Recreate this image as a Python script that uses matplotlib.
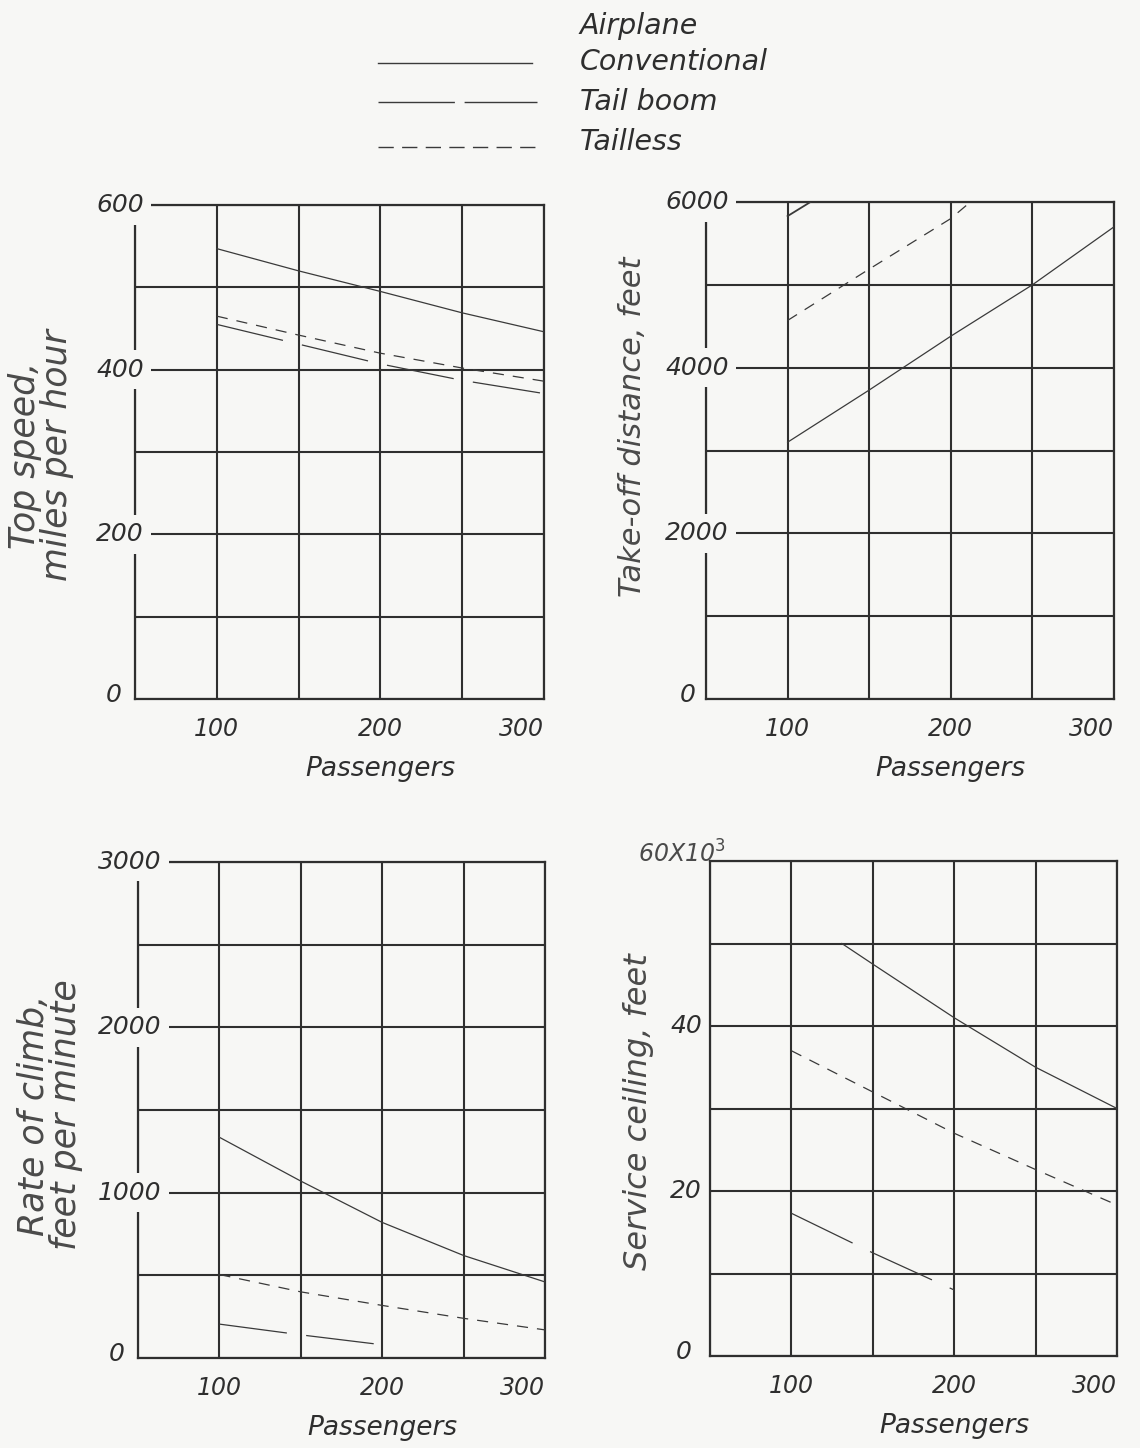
import matplotlib.pyplot as plt
from matplotlib.lines import Line2D
from matplotlib.transforms import offset_copy

# Values
passengers = [100, 150, 200, 250, 300]
passenger_grid = [50, 100, 150, 200, 250, 300]
passenger_labels = ['', '100', '', '200', '', '300']

# Top speed, miles per hour
speed_conventional = [547, 520, 495, 469, 446]
speed_tail_boom = [455, 431, 407, 387, 371]
speed_tailless = [465, 442, 420, 402, 386]

# Take-off distance, feet
takeoff_conventional = [3100, 3730, 4380, 5000, 5700]
takeoff_boom_passengers = [100, 114]
takeoff_tail_boom = [5830, 6000]
takeoff_tailless_passengers = [100, 150, 200, 212]
takeoff_tailless = [4570, 5190, 5800, 6000]

# Rate of climb, feet per minute
climb_conventional = [1335, 1070, 820, 620, 460]
climb_boom_passengers = [100, 150, 200]
climb_tail_boom = [205, 140, 80]
climb_tailless = [505, 400, 318, 240, 170]

# Service ceiling, thousands of feet
ceiling_conv_passengers = [131, 150, 200, 250, 300]
ceiling_conventional = [50, 47.5, 41, 35, 30]
ceiling_boom_passengers = [100, 150, 200]
ceiling_tail_boom = [17.3, 12.5, 8]
ceiling_tailless = [37, 32, 27, 22.6, 18.3]

BG = '#f7f7f5'
INK = '#2e2e2e'
W, H = 1140, 1448

plt.rcParams['font.family'] = ['DejaVu Sans']
plt.rcParams['lines.scale_dashes'] = False

conv_style = dict(color='#3a3a3a', lw=0.9, ls='-')
boom_style = dict(color='#3a3a3a', lw=0.9, ls=(0, (49, 14)))
tailless_style = dict(color='#3a3a3a', lw=0.9, ls=(0, (8, 6.5)))

fig = plt.figure(figsize=(W / 100, H / 100), dpi=100, facecolor=BG)


def rect(x0, y0, x1, y1):
    # pixel box -> figure fraction
    return [x0 / W, 1 - y1 / H, (x1 - x0) / W, (y1 - y0) / H]


def style_axes(ax, ymax, ystep, tick_vals, tick_txt, dx, dx_zero, boxed, height_px):
    ax.set_facecolor(BG)
    ax.set_xlim(50, 300)
    ax.set_ylim(0, ymax)
    ax.set_xticks(passenger_grid)
    ax.set_xticklabels(passenger_labels)
    ax.set_yticks([v * ystep for v in range(int(ymax / ystep) + 1)])
    ax.tick_params(length=0, labelleft=False, pad=13, labelsize=17, labelcolor=INK)
    for lab in ax.get_xticklabels():
        lab.set_fontstyle('italic')
    # last label sits a little left of the right edge
    ax.get_xticklabels()[-1].set_horizontalalignment('right')
    ax.get_xticklabels()[-1].set_x(306)
    ax.grid(True, color='#2f2f2f', lw=1.5)
    for sp in ax.spines.values():
        sp.set_color('#2f2f2f')
        sp.set_linewidth(1.6)
    for v, t in zip(tick_vals, tick_txt):
        off = dx_zero if v == 0 else dx
        dy = 4 if v == 0 else 0
        tr = offset_copy(ax.get_yaxis_transform(), fig=fig, x=off, y=dy, units='dots')
        box = dict(boxstyle='square,pad=0.3', fc=BG, ec='none') if boxed and v != 0 else None
        ax.text(0, v, t, transform=tr, ha='center', va='center', fontsize=18,
                style='italic', color=INK, bbox=box, zorder=6, clip_on=False)
    ax.set_xlabel('Passengers', fontsize=19, style='italic', color=INK)
    ax.xaxis.set_label_coords(0.6, -57 / height_px)


# Top speed
ax1 = fig.add_axes(rect(135, 205, 544, 699))
ax1.plot(passengers, speed_conventional, **conv_style, zorder=3)
ax1.plot(passengers, speed_tail_boom, **boom_style, zorder=3)
ax1.plot(passengers, speed_tailless, **tailless_style, zorder=3)
style_axes(ax1, 600, 100, [0, 200, 400, 600], ['0', '200', '400', '600'], -15, -21, True, 494)

# Take-off distance
ax2 = fig.add_axes(rect(706, 202, 1114, 699))
ax2.plot(passengers, takeoff_conventional, **conv_style, zorder=3)
ax2.plot(takeoff_boom_passengers, takeoff_tail_boom, color='#3a3a3a', lw=1.3, zorder=3)
ax2.plot(takeoff_tailless_passengers, takeoff_tailless, **tailless_style, zorder=3)
style_axes(ax2, 6000, 1000, [0, 2000, 4000, 6000], ['0', '2000', '4000', '6000'], -9, -18, True, 497)

# Rate of climb
ax3 = fig.add_axes(rect(138, 862, 545, 1358))
ax3.plot(passengers, climb_conventional, **conv_style, zorder=3)
ax3.plot(climb_boom_passengers, climb_tail_boom, **boom_style, zorder=3)
ax3.plot(passengers, climb_tailless, **tailless_style, zorder=3)
style_axes(ax3, 3000, 500, [0, 1000, 2000, 3000], ['0', '1000', '2000', '3000'], -8, -21, True, 496)

# Service ceiling
ax4 = fig.add_axes(rect(710, 861, 1117, 1356))
ax4.plot(ceiling_conv_passengers, ceiling_conventional, **conv_style, zorder=3)
ax4.plot(ceiling_boom_passengers, ceiling_tail_boom, **boom_style, zorder=3)
ax4.plot(passengers, ceiling_tailless, **tailless_style, zorder=3)
style_axes(ax4, 60, 10, [0, 20, 40], ['0', '20', '40'], -24, -26, False, 495)
tr = offset_copy(ax4.get_yaxis_transform(), fig=fig, x=16, y=7, units='dots')
ax4.text(0, 60, '60X10$^3$', transform=tr, ha='right', va='center', fontsize=17,
         style='italic', color='#4a4a4a', zorder=6, clip_on=False)

# y-axis titles
ylab = dict(rotation=90, ha='center', va='center', style='italic', color='#4a4a4a')
fig.text(41 / W, 1 - 455 / H, 'Top speed,\nmiles per hour', fontsize=25, linespacing=0.9, **ylab)
fig.text(633 / W, 1 - 427 / H, 'Take-off distance, feet', fontsize=22, **ylab)
fig.text(50 / W, 1 - 1115 / H, 'Rate of climb,\nfeet per minute', fontsize=25, linespacing=0.9, **ylab)
fig.text(638 / W, 1 - 1112 / H, 'Service ceiling, feet', fontsize=23, **ylab)

# Legend drawn by hand at the top
leg = dict(color='#3a3a3a', lw=1.0, transform=fig.transFigure)
fig.add_artist(Line2D([378 / W, 532 / W], [1 - 63 / H] * 2, ls='-', **leg))
fig.add_artist(Line2D([378 / W, 537 / W], [1 - 102 / H] * 2, ls=(0, (55, 7)), **leg))
fig.add_artist(Line2D([378 / W, 537 / W], [1 - 147 / H] * 2, ls=(0, (11, 6)), **leg))
legtxt = dict(ha='left', va='center', fontsize=20.5, style='italic', color=INK)
fig.text(580 / W, 1 - 26 / H, 'Airplane', **legtxt)
fig.text(580 / W, 1 - 62 / H, 'Conventional', **legtxt)
fig.text(580 / W, 1 - 102 / H, 'Tail boom', **legtxt)
fig.text(580 / W, 1 - 142 / H, 'Tailless', **legtxt)

fig.savefig('out.png', dpi=100, facecolor=BG)
